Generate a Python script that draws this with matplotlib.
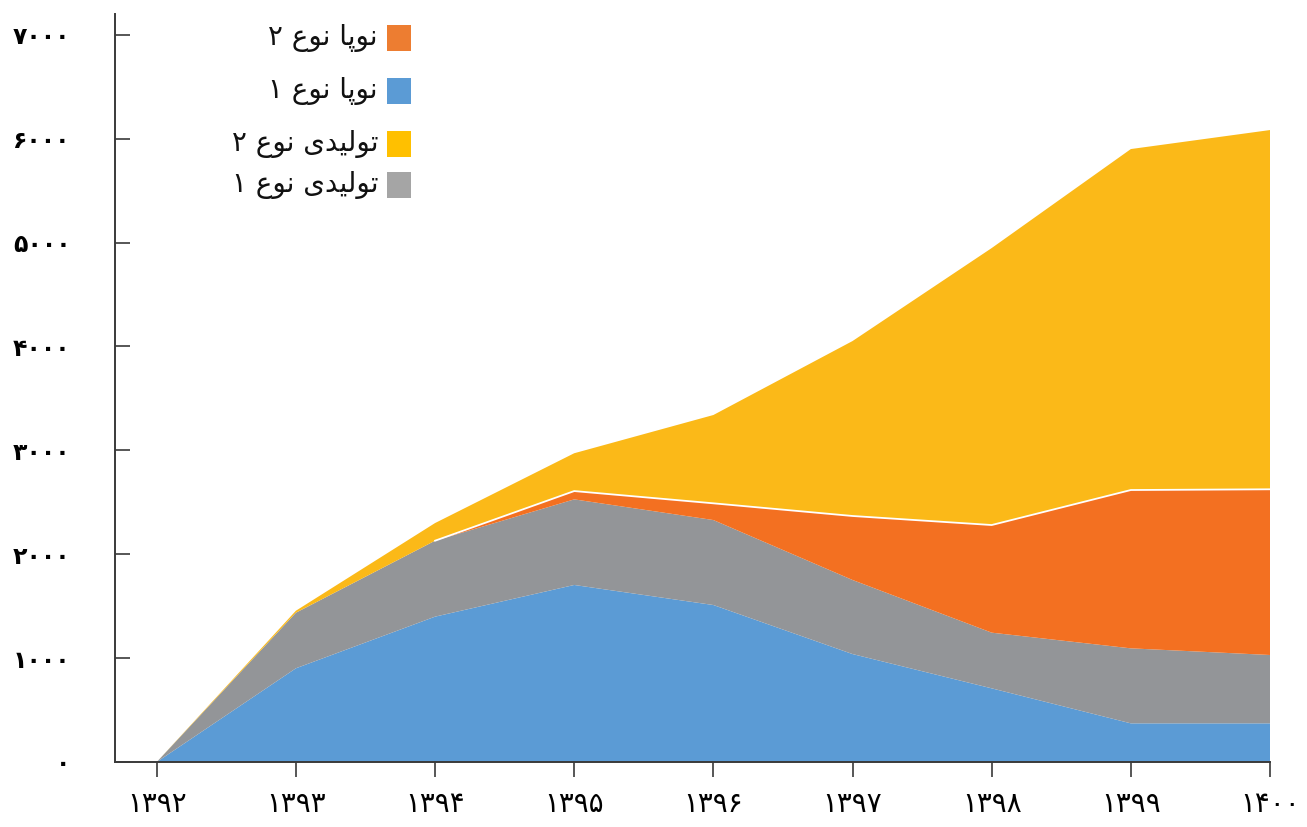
import numpy as np
import matplotlib
matplotlib.use("Agg")
import matplotlib.pyplot as plt
from matplotlib.patches import Rectangle

plt.rcParams['font.family'] = ['DejaVu Sans']

# data (stack order bottom -> top)
years = [1392, 1393, 1394, 1395, 1396, 1397, 1398, 1399, 1400]
nopa_1 = [0, 902, 1399, 1704, 1511, 1039, 709, 372, 372]        # blue
tolidi_1 = [0, 535, 731, 824, 818, 713, 536, 722, 658]          # gray
nopa_2 = [0, 0, 0, 80, 161, 616, 1036, 1524, 1595]              # orange
tolidi_2 = [0, 19, 170, 364, 850, 1684, 2666, 3282, 3458]       # yellow

year_labels = ["۱۳۹۲", "۱۳۹۳", "۱۳۹۴", "۱۳۹۵", "۱۳۹۶", "۱۳۹۷", "۱۳۹۸", "۱۳۹۹", "۱۴۰۰"]
y_ticks = [0, 1000, 2000, 3000, 4000, 5000, 6000, 7000]
y_labels = ["۰", "۱۰۰۰", "۲۰۰۰", "۳۰۰۰", "۴۰۰۰", "۵۰۰۰", "۶۰۰۰", "۷۰۰۰"]

legend_labels = ["نوپا نوع ۲", "نوپا نوع ۱", "تولیدی نوع ۲", "تولیدی نوع ۱"]
legend_colors = ["#ED7D31", "#5B9BD5", "#FFC000", "#A5A5A5"]

C_BLUE, C_GRAY, C_ORANGE, C_YELLOW = "#5B9BD5", "#939598", "#F37021", "#FBB918"

# minimal arabic shaping for the few letters used (iso, final, initial, medial)
FORMS = {
    "ن": ("\uFEE5", "\uFEE6", "\uFEE7", "\uFEE8"),
    "و": ("\uFEED", "\uFEEE", None, None),
    "پ": ("\uFB56", "\uFB57", "\uFB58", "\uFB59"),
    "ا": ("\uFE8D", "\uFE8E", None, None),
    "ع": ("\uFEC9", "\uFECA", "\uFECB", "\uFECC"),
    "ت": ("\uFE95", "\uFE96", "\uFE97", "\uFE98"),
    "ل": ("\uFEDD", "\uFEDE", "\uFEDF", "\uFEE0"),
    "ی": ("\uFBFC", "\uFBFD", "\uFBFE", "\uFBFF"),
    "د": ("\uFEA9", "\uFEAA", None, None),
}


def shape(s):
    out = []
    for i, ch in enumerate(s):
        if ch not in FORMS:
            out.append(ch)
            continue
        prev = s[i - 1] if i > 0 else ""
        nxt = s[i + 1] if i + 1 < len(s) else ""
        join_prev = prev in FORMS and FORMS[prev][2] is not None
        join_next = FORMS[ch][2] is not None and nxt in FORMS
        if join_prev and join_next:
            out.append(FORMS[ch][3])
        elif join_prev:
            out.append(FORMS[ch][1])
        elif join_next:
            out.append(FORMS[ch][2])
        else:
            out.append(FORMS[ch][0])
    return "".join(out)[::-1]


fig = plt.figure(figsize=(13.07, 8.27), dpi=100)
ax = fig.add_axes([115 / 1307, 1 - 762 / 827, (1270 - 115) / 1307, (762 - 14) / 827])

ax.stackplot(years, nopa_1, tolidi_1, nopa_2, tolidi_2,
             colors=[C_BLUE, C_GRAY, C_ORANGE, C_YELLOW], linewidth=0)
orange_top = np.array(nopa_1) + np.array(tolidi_1) + np.array(nopa_2)
ax.plot(years[2:], orange_top[2:], color="white", lw=1.3)

ax.set_xlim(1391.7, 1400)
ax.set_ylim(0, 7200)
for s in ("top", "right"):
    ax.spines[s].set_visible(False)
for s in ("left", "bottom"):
    ax.spines[s].set_color("#3a3a3a")
    ax.spines[s].set_linewidth(1.4)
    ax.spines[s].set_zorder(5)

ax.set_xticks(years)
ax.set_xticklabels(year_labels, fontsize=20)
ax.set_yticks(y_ticks)
ax.set_yticklabels(y_labels, fontsize=17, fontweight="bold")
ax.tick_params(axis="x", direction="out", length=11, width=1.2, color="#3a3a3a", pad=9)
ax.tick_params(axis="y", direction="in", length=11, width=1.2, color="#3a3a3a", pad=32)

# legend, drawn by hand to keep the right-to-left layout
rows_y = [38, 91, 144, 185]
for lab, col, yc in zip(legend_labels, legend_colors, rows_y):
    fig.add_artist(Rectangle((387 / 1307, 1 - (yc + 13) / 827), 24 / 1307, 26 / 827,
                             transform=fig.transFigure, color=col, lw=0))
    fig.text(378 / 1307, 1 - yc / 827, shape(lab), ha="right", va="center",
             fontsize=20, color="#111111")

fig.savefig("out.png", dpi=100)
